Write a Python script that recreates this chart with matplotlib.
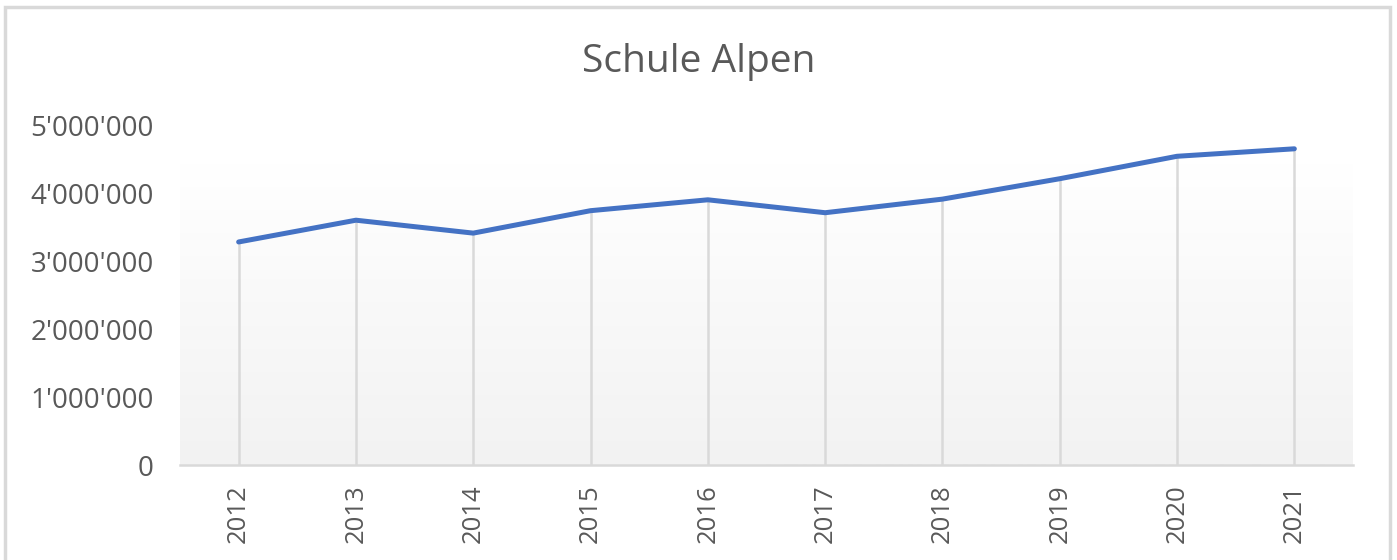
import matplotlib
matplotlib.use('Agg')
import matplotlib.pyplot as plt
import numpy as np
from matplotlib.patches import Rectangle
from matplotlib.ticker import FuncFormatter

years = ['2012', '2013', '2014', '2015', '2016', '2017', '2018', '2019', '2020', '2021']
werte = [3280000, 3600000, 3410000, 3740000, 3900000, 3710000, 3910000, 4210000, 4540000, 4650000]
y_ticks = [0, 1000000, 2000000, 3000000, 4000000, 5000000]

plt.rcParams['font.family'] = ['Open Sans', 'DejaVu Sans']
grey_txt = '#595959'
line_grey = '#d9d9d9'

fig = plt.figure(figsize=(13.97, 5.6), dpi=100)
ax = fig.add_axes([180 / 1397, 1 - 465 / 560, 1173 / 1397, 340 / 560])

x = np.arange(len(years))

# background gradient (white on top, light grey at the bottom)
grad = np.linspace(0, 1, 256).reshape(-1, 1)
cmap = matplotlib.colors.LinearSegmentedColormap.from_list('bg', ['#f2f2f2', '#ffffff'])
ax.imshow(grad, cmap=cmap, aspect='auto', origin='lower',
          extent=(-0.5, len(years) - 0.5, 0, 4440000), zorder=0)

# drop lines
ax.vlines(x, 0, werte, color=line_grey, linewidth=1.8, zorder=1)
ax.plot(x, werte, color='#4472c4', linewidth=3.6, solid_capstyle='round',
        solid_joinstyle='round', zorder=3)

ax.set_xlim(-0.5, len(years) - 0.5)
ax.set_ylim(0, 5000000)
ax.set_yticks(y_ticks)
ax.yaxis.set_major_formatter(FuncFormatter(lambda v, p: f"{int(v):,}".replace(',', "'")))
ax.set_xticks(x)
ax.set_xticklabels(years, rotation=90)

for s in ['top', 'right', 'left']:
    ax.spines[s].set_visible(False)
ax.spines['bottom'].set_color(line_grey)
ax.spines['bottom'].set_linewidth(1.8)
ax.tick_params(axis='both', length=0, colors=grey_txt)
ax.tick_params(axis='y', pad=19, labelsize=20)
ax.tick_params(axis='x', pad=14, labelsize=18.5)
ax.patch.set_alpha(0)

fig.text(0.5, 1 - 62 / 560, 'Schule Alpen', ha='center', va='center',
         fontsize=28, color=grey_txt)

# chart frame
fig.patches.append(Rectangle((5 / 1397, -0.05), 1385 / 1397, 1.05 - 7 / 560,
                             transform=fig.transFigure, fill=False,
                             edgecolor=line_grey, linewidth=2.5))

fig.savefig('out.png', dpi=100)
